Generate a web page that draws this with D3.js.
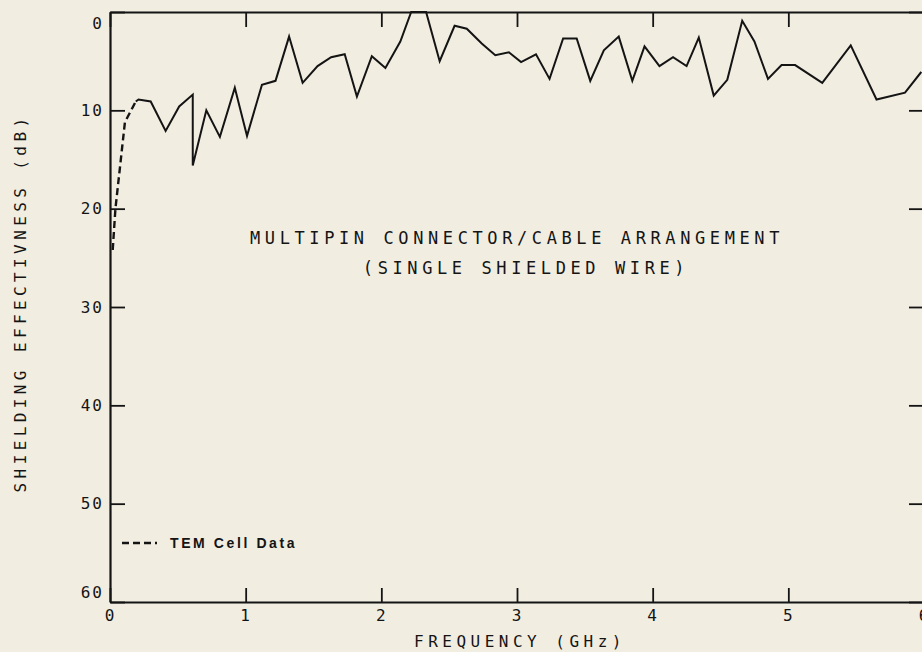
<!DOCTYPE html>
<html>
<head>
<meta charset="utf-8">
<script src="https://cdn.jsdelivr.net/npm/d3@7"></script>
<style>
  body { margin: 0; background: #f1ede1; }
  svg { display: block; }
</style>
</head>
<body>
<div id="chart"></div>
<script>
// size
var chart_width  = 922;
var chart_height = 652;

// measured data (solid line), frequency in GHz and shielding effectiveness in dB
var freq_meas = [0.19, 0.21, 0.30, 0.41, 0.51, 0.61, 0.61, 0.71, 0.81, 0.92, 1.01, 1.12, 1.22, 1.32, 1.42, 1.53, 1.63, 1.73, 1.82, 1.93, 2.03,
                 2.14, 2.22, 2.33, 2.43, 2.54, 2.63, 2.74, 2.84, 2.94, 3.03, 3.14, 3.24, 3.34, 3.44, 3.54, 3.64, 3.75, 3.85, 3.94,
                 4.05, 4.15, 4.25, 4.34, 4.45, 4.55, 4.66, 4.75, 4.85, 4.95, 5.05, 5.25, 5.46, 5.65, 5.86, 5.98];
var se_meas   = [9.1, 8.9, 9.1, 12.1, 9.6, 8.4, 15.6, 10.0, 12.7, 7.7, 12.6, 7.4, 7.0, 2.5, 7.2, 5.5, 4.6, 4.3, 8.6, 4.5, 5.7,
                 3.0, 0.0, 0.0, 5.0, 1.4, 1.7, 3.2, 4.4, 4.1, 5.1, 4.3, 6.8, 2.7, 2.7, 7.0, 3.9, 2.5, 7.0, 3.5,
                 5.5, 4.6, 5.5, 2.6, 8.5, 6.9, 0.9, 3.0, 6.8, 5.4, 5.4, 7.2, 3.4, 8.9, 8.2, 6.1];

// TEM cell data (dashed line)
var freq_tem = [0.02, 0.04, 0.11, 0.19];
var se_tem   = [24.2, 20.0, 11.2, 9.1];

var x_ticks = [0, 1, 2, 3, 4, 5, 6];
var y_ticks = [0, 10, 20, 30, 40, 50, 60];

var plot_title = ["MULTIPIN CONNECTOR/CABLE ARRANGEMENT", "(SINGLE SHIELDED WIRE)"];
var x_title = "FREQUENCY (GHz)";
var y_title = "SHIELDING EFFECTIVNESS (dB)";
var legend_label = "TEM Cell Data";

var plotter_font = "'DejaVu Sans Mono', monospace";
var ink = "#141414";

var svg = d3.select("#chart")
    .append("svg")
    .attr("width", chart_width)
    .attr("height", chart_height);

svg.append("rect")
    .attr("width", chart_width)
    .attr("height", chart_height)
    .attr("fill", "#f1ede1");

var x = d3.scaleLinear().domain([0, 6]).range([110, 924]);
var y = d3.scaleLinear().domain([0, 60]).range([12, 602]);

// axes, ticks pointing inward
var left_axis = svg.append("g")
    .attr("transform", "translate(" + x(0) + ",0)")
    .call(d3.axisLeft(y).tickValues(y_ticks).tickSizeInner(-15).tickSizeOuter(0).tickPadding(6).tickFormat(d3.format("d")));

var right_axis = svg.append("g")
    .attr("transform", "translate(" + x(6) + ",0)")
    .call(d3.axisRight(y).tickValues(y_ticks).tickSizeInner(-15).tickSizeOuter(0).tickFormat(""));

var top_axis = svg.append("g")
    .attr("transform", "translate(0," + y(0) + ")")
    .call(d3.axisTop(x).tickValues(x_ticks).tickSizeInner(-15).tickSizeOuter(0).tickFormat(""));

var bottom_axis = svg.append("g")
    .attr("transform", "translate(0," + y(60) + ")")
    .call(d3.axisBottom(x).tickValues(x_ticks).tickSizeInner(-14).tickSizeOuter(0).tickPadding(8).tickFormat(d3.format("d")));

[left_axis, right_axis, top_axis, bottom_axis].forEach(function(g){
  g.selectAll("path.domain").attr("stroke", ink).attr("stroke-width", 2.2);
  g.selectAll(".tick line").attr("stroke", ink).attr("stroke-width", 1.8);
  g.selectAll("text")
    .attr("fill", ink)
    .style("font-family", plotter_font)
    .style("font-size", "16px")
    .style("letter-spacing", "2px");
});

// the end labels sit inside the frame like the plotter did
left_axis.selectAll(".tick text")
    .attr("dy", function(d){
      if (d === 0) return "1.05em";
      if (d === 60) return "-0.3em";
      return "0.32em";
    });

// lines
var line = d3.line()
    .x(function(d){ return x(d[0]); })
    .y(function(d){ return y(d[1]); });

svg.append("path")
    .datum(d3.zip(freq_meas, se_meas))
    .attr("d", line)
    .attr("fill", "none")
    .attr("stroke", ink)
    .attr("stroke-width", 2)
    .attr("stroke-linejoin", "miter");

svg.append("path")
    .datum(d3.zip(freq_tem, se_tem))
    .attr("d", line)
    .attr("fill", "none")
    .attr("stroke", ink)
    .attr("stroke-width", 2.4)
    .attr("stroke-dasharray", "7,4");

// text inside the plot
svg.selectAll("text.ptitle")
    .data(plot_title)
    .enter()
    .append("text")
    .attr("class", "ptitle")
    .attr("x", function(d, i){ return i === 0 ? 517 : 526; })
    .attr("y", function(d, i){ return 244 + i * 30; })
    .attr("text-anchor", "middle")
    .attr("fill", ink)
    .style("font-family", plotter_font)
    .style("font-size", "17px")
    .style("letter-spacing", "4.6px")
    .text(function(d){ return d; });

// legend
svg.append("line")
    .attr("x1", 122).attr("x2", 157)
    .attr("y1", 543).attr("y2", 543)
    .attr("stroke", ink)
    .attr("stroke-width", 2.4)
    .attr("stroke-dasharray", "7,4");

svg.append("text")
    .attr("x", 170)
    .attr("y", 548)
    .attr("fill", ink)
    .style("font-family", "'Liberation Sans', Arial, sans-serif")
    .style("font-weight", "bold")
    .style("font-size", "14px")
    .style("letter-spacing", "2.6px")
    .text(legend_label);

// axis titles
svg.append("text")
    .attr("x", 520)
    .attr("y", 647)
    .attr("text-anchor", "middle")
    .attr("fill", ink)
    .style("font-family", plotter_font)
    .style("font-size", "16px")
    .style("letter-spacing", "4.5px")
    .text(x_title);

svg.append("text")
    .attr("transform", "translate(26,303) rotate(-90)")
    .attr("text-anchor", "middle")
    .attr("fill", ink)
    .style("font-family", plotter_font)
    .style("font-size", "16px")
    .style("letter-spacing", "4.4px")
    .text(y_title);
</script>
</body>
</html>
